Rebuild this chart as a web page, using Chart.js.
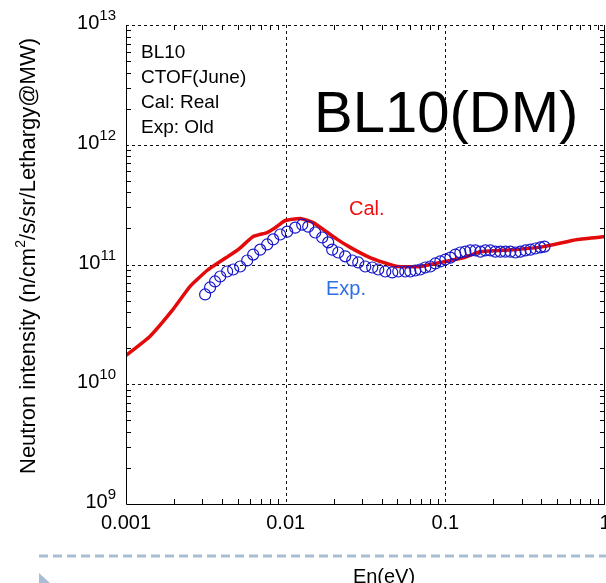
<!DOCTYPE html>
<html>
<head>
<meta charset="utf-8">
<script src="https://cdn.jsdelivr.net/npm/chart.js@4/dist/chart.umd.min.js"></script>
<style>
  html, body { margin: 0; padding: 0; background: #fff; }
  #chart { display: block; }
</style>
</head>
<body>
<canvas id="chart" width="606" height="583"></canvas>
<script>
// calculated spectrum (red line)
const energyCal = [0.001, 0.00141, 0.00197, 0.00252, 0.00322, 0.00436, 0.00504, 0.00626, 0.00766, 0.0086,
  0.00995, 0.01233, 0.01488, 0.01719, 0.02103, 0.02537, 0.03243, 0.04086, 0.05001, 0.06968,
  0.09304, 0.1297, 0.1657, 0.2669, 0.4116, 0.6725, 1.0];
const fluxCal = [1.74e10, 2.51e10, 4.22e10, 6.56e10, 8.91e10, 1.17e11, 1.33e11, 1.71e11, 1.85e11, 2.03e11,
  2.33e11, 2.42e11, 2.24e11, 1.96e11, 1.62e11, 1.39e11, 1.17e11, 1.04e11, 9.62e10, 9.62e10,
  1.04e11, 1.14e11, 1.28e11, 1.33e11, 1.41e11, 1.62e11, 1.71e11];

// measured spectrum (open circles)
const energyExp = [0.00313, 0.00336, 0.00361, 0.00389, 0.0043, 0.00469, 0.00519, 0.00574, 0.00626, 0.00692,
  0.00766, 0.00835, 0.00924, 0.01022, 0.01147, 0.01269, 0.01384, 0.01531, 0.01694, 0.01847,
  0.01956, 0.02134, 0.0236, 0.02611, 0.02848, 0.03151, 0.03485, 0.03801, 0.04205, 0.04652,
  0.05073, 0.05613, 0.06034, 0.06485, 0.06968, 0.0749, 0.08054, 0.08656, 0.09304, 0.1,
  0.1075, 0.1155, 0.1242, 0.1335, 0.1435, 0.1542, 0.1657, 0.1781, 0.1915, 0.2058,
  0.2212, 0.2378, 0.2556, 0.2748, 0.2953, 0.3174, 0.3411, 0.3667, 0.3941, 0.4175];
const fluxExp = [5.62e10, 6.43e10, 7.22e10, 7.94e10, 8.74e10, 9.08e10, 9.62e10, 1.08e11, 1.21e11, 1.33e11,
  1.47e11, 1.62e11, 1.78e11, 1.88e11, 2.03e11, 2.15e11, 2.07e11, 1.85e11, 1.68e11, 1.53e11,
  1.33e11, 1.26e11, 1.17e11, 1.08e11, 1.04e11, 9.62e10, 9.44e10, 9.08e10, 8.74e10, 8.58e10,
  8.74e10, 8.74e10, 8.74e10, 8.91e10, 9.08e10, 9.44e10, 9.62e10, 1.02e11, 1.06e11, 1.10e11,
  1.14e11, 1.21e11, 1.26e11, 1.28e11, 1.31e11, 1.31e11, 1.28e11, 1.31e11, 1.31e11, 1.28e11,
  1.28e11, 1.28e11, 1.28e11, 1.26e11, 1.28e11, 1.31e11, 1.33e11, 1.36e11, 1.39e11, 1.41e11];

// axis ticks
const xTickValues = [0.001, 0.01, 0.1, 1];
const xTickLabels = ['0.001', '0.01', '0.1', '1'];
const yExponents = [9, 10, 11, 12, 13];

const infoLines = ['BL10', 'CTOF(June)', 'Cal: Real', 'Exp: Old'];
const FONT = '"Liberation Sans", Arial, sans-serif';

const toPoints = (xs, ys) => xs.map((x, i) => ({ x: x, y: ys[i] }));

// draws grid, frame, ticks and all texts around the plot
const framePlugin = {
  id: 'frame',
  beforeDatasetsDraw(chart) {
    const ctx = chart.ctx;
    const a = chart.chartArea;
    const sx = chart.scales.x, sy = chart.scales.y;
    ctx.save();
    ctx.strokeStyle = '#111';
    ctx.lineWidth = 1;
    ctx.setLineDash([3, 3]);
    ctx.beginPath();
    for (const v of [0.01, 0.1]) {
      const px = Math.round(sx.getPixelForValue(v)) + 0.5;
      ctx.moveTo(px, a.top); ctx.lineTo(px, a.bottom);
    }
    for (const e of [10, 11, 12]) {
      const py = Math.round(sy.getPixelForValue(Math.pow(10, e))) + 0.5;
      ctx.moveTo(a.left, py); ctx.lineTo(a.right, py);
    }
    // top border is dashed as well
    ctx.moveTo(a.left, a.top + 0.5); ctx.lineTo(a.right, a.top + 0.5);
    ctx.stroke();
    ctx.restore();
  },
  afterDatasetsDraw(chart) {
    const ctx = chart.ctx;
    const a = chart.chartArea;
    const sx = chart.scales.x, sy = chart.scales.y;
    ctx.save();
    ctx.strokeStyle = '#000';
    ctx.lineWidth = 1;
    ctx.beginPath();
    ctx.moveTo(a.left + 0.5, a.top); ctx.lineTo(a.left + 0.5, a.bottom + 0.5);
    ctx.lineTo(a.right, a.bottom + 0.5);
    ctx.moveTo(a.right - 0.5, a.top); ctx.lineTo(a.right - 0.5, a.bottom);

    // minor ticks, pointing inward on all four sides
    const tl = 5;
    for (let d = -3; d < 0; d++) {
      for (let m = 2; m <= 9; m++) {
        const px = Math.round(sx.getPixelForValue(m * Math.pow(10, d))) + 0.5;
        ctx.moveTo(px, a.bottom); ctx.lineTo(px, a.bottom - tl);
        ctx.moveTo(px, a.top); ctx.lineTo(px, a.top + tl);
      }
    }
    for (let d = 9; d < 13; d++) {
      for (let m = 2; m <= 9; m++) {
        const py = Math.round(sy.getPixelForValue(m * Math.pow(10, d))) + 0.5;
        ctx.moveTo(a.left, py); ctx.lineTo(a.left + tl, py);
        ctx.moveTo(a.right, py); ctx.lineTo(a.right - tl, py);
      }
    }
    ctx.stroke();

    ctx.fillStyle = '#000';
    ctx.textBaseline = 'alphabetic';

    // x tick labels
    ctx.font = '20px ' + FONT;
    ctx.textAlign = 'center';
    xTickValues.forEach((v, i) => {
      ctx.fillText(xTickLabels[i], sx.getPixelForValue(v), a.bottom + 25);
    });

    // y tick labels as 10 with a raised exponent
    ctx.textAlign = 'left';
    for (const e of yExponents) {
      const py = sy.getPixelForValue(Math.pow(10, e));
      ctx.font = '15px ' + FONT;
      const sup = String(e);
      const ws = ctx.measureText(sup).width;
      ctx.font = '20px ' + FONT;
      const wb = ctx.measureText('10').width;
      const right = a.left - 10;
      ctx.fillText('10', right - ws - wb, py + 4);
      ctx.font = '15px ' + FONT;
      ctx.fillText(sup, right - ws, py - 5);
    }

    // y axis title with superscript 2
    ctx.save();
    ctx.translate(35, 256);
    ctx.rotate(-Math.PI / 2);
    const p1 = 'Neutron intensity (n/cm', p2 = '/s/sr/Lethargy@MW)';
    ctx.font = '22px ' + FONT;
    const w1 = ctx.measureText(p1).width, w2 = ctx.measureText(p2).width;
    ctx.font = '14px ' + FONT;
    const w2s = ctx.measureText('2').width;
    let x0 = -(w1 + w2s + w2) / 2;
    ctx.font = '22px ' + FONT;
    ctx.fillText(p1, x0, 0);
    ctx.font = '14px ' + FONT;
    ctx.fillText('2', x0 + w1, -10);
    ctx.font = '22px ' + FONT;
    ctx.fillText(p2, x0 + w1 + w2s, 0);
    ctx.restore();

    // x axis title
    ctx.textAlign = 'center';
    ctx.font = '20px ' + FONT;
    ctx.fillText('En(eV)', 384, 583);

    // info block and beam line name
    ctx.textAlign = 'left';
    ctx.font = '19px ' + FONT;
    infoLines.forEach((t, i) => ctx.fillText(t, 141, 58 + i * 25));
    ctx.font = '58px ' + FONT;
    ctx.fillText('BL10(DM)', 314, 132);

    // series labels
    ctx.font = '20px ' + FONT;
    ctx.fillStyle = '#ee1111';
    ctx.fillText('Cal.', 349, 215);
    ctx.fillStyle = '#2e6fe8';
    ctx.fillText('Exp.', 326, 295);

    // slide separator and bullet
    ctx.strokeStyle = '#a9bed4';
    ctx.lineWidth = 3;
    ctx.setLineDash([9, 5]);
    ctx.beginPath();
    ctx.moveTo(39, 556); ctx.lineTo(606, 556);
    ctx.stroke();
    ctx.setLineDash([]);
    ctx.fillStyle = '#a9bed4';
    ctx.beginPath();
    ctx.moveTo(39, 573); ctx.lineTo(51, 584); ctx.lineTo(39, 595);
    ctx.closePath();
    ctx.fill();
    ctx.restore();
  }
};

new Chart(document.getElementById('chart'), {
  type: 'scatter',
  data: {
    datasets: [
      {
        label: 'Exp.',
        data: toPoints(energyExp, fluxExp),
        showLine: false,
        pointStyle: 'circle',
        pointRadius: 5.5,
        borderColor: '#1515c8',
        backgroundColor: 'transparent',
        borderWidth: 1.2,
        order: 0
      },
      {
        label: 'Cal.',
        data: toPoints(energyCal, fluxCal),
        showLine: true,
        borderColor: '#e20a0a',
        borderWidth: 3.5,
        pointRadius: 0,
        tension: 0.15,
        order: 1
      }
    ]
  },
  options: {
    responsive: false,
    animation: false,
    layout: { autoPadding: false, padding: { left: 126, right: 1, top: 25, bottom: 79 } },
    plugins: { legend: { display: false }, tooltip: { enabled: false } },
    scales: {
      x: { type: 'logarithmic', min: 0.001, max: 1, display: false },
      y: { type: 'logarithmic', min: 1e9, max: 1e13, display: false }
    }
  },
  plugins: [framePlugin]
});
</script>
</body>
</html>
